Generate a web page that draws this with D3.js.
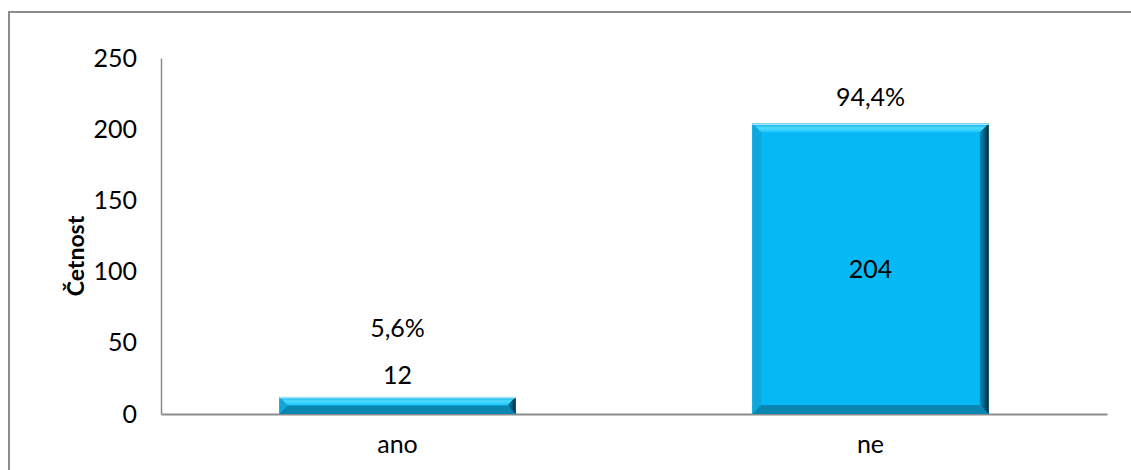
<!DOCTYPE html>
<html>
<head>
<meta charset="utf-8">
<script src="https://cdn.jsdelivr.net/npm/d3@7"></script>
<style>
  body { margin: 0; background: #fff; }
  text { font-family: Lato, "Open Sans", sans-serif; fill: #000; }
</style>
</head>
<body>
<svg id="chart" width="1131" height="470"></svg>
<script>
// data
var categories = ["ano", "ne"];
var counts = [12, 204];
var percents = ["5,6%", "94,4%"];
var yTicks = [0, 50, 100, 150, 200, 250];

var svg = d3.select("#chart");
var plotLeft = 161, plotRight = 1107, plotTop = 58, plotBottom = 414;

// outer frame (runs off right/bottom edges)
svg.append("rect")
  .attr("x", 9).attr("y", 12)
  .attr("width", 1140).attr("height", 480)
  .attr("fill", "none").attr("stroke", "#8c8c8c").attr("stroke-width", 2);

var x = d3.scaleBand().domain(categories).range([plotLeft, plotRight])
  .paddingInner(0.5).paddingOuter(0.25);
var y = d3.scaleLinear().domain([0, 250]).range([plotBottom, plotTop]);

// y axis
var yAxis = svg.append("g").attr("transform", "translate(" + plotLeft + ",0)")
  .call(d3.axisLeft(y).tickValues(yTicks).tickSize(0).tickPadding(24));
yAxis.select(".domain").attr("stroke", "#8c8c8c").attr("stroke-width", 1.5);
yAxis.selectAll("text").style("font-size", "25px").attr("font-family", null);

// x axis
var xAxis = svg.append("g").attr("transform", "translate(0," + plotBottom + ")")
  .call(d3.axisBottom(x).tickSize(0).tickPadding(21));
xAxis.select(".domain").attr("stroke", "#8c8c8c").attr("stroke-width", 2);
xAxis.selectAll("text").style("font-size", "25px").attr("font-family", null);

// y title
svg.append("text")
  .attr("transform", "translate(84,256) rotate(-90)")
  .attr("text-anchor", "middle")
  .style("font-size", "23px").style("font-weight", "bold")
  .text("Četnost");

// gradients for bevel edges
var defs = svg.append("defs");
var gr = defs.append("linearGradient").attr("id", "rgrad")
  .attr("x1", 0).attr("x2", 1).attr("y1", 0).attr("y2", 0);
gr.append("stop").attr("offset", "0%").attr("stop-color", "#0590bf");
gr.append("stop").attr("offset", "100%").attr("stop-color", "#0a2a3a");
var tg = defs.append("linearGradient").attr("id", "tgrad")
  .attr("x1", 0).attr("x2", 0).attr("y1", 0).attr("y2", 1);
tg.append("stop").attr("offset", "0%").attr("stop-color", "#0aa7dd");
tg.append("stop").attr("offset", "50%").attr("stop-color", "#4fdcff");
tg.append("stop").attr("offset", "100%").attr("stop-color", "#18c2f8");

var bars = svg.append("g").selectAll("g").data(categories).enter().append("g");
bars.each(function(c, i) {
  var g = d3.select(this);
  var x0 = x(c), x1 = x(c) + x.bandwidth();
  var y0 = y(counts[i]), y1 = y(0);
  var b = Math.min(9, (y1 - y0) / 2);
  g.append("rect").attr("x", x0).attr("y", y0)
    .attr("width", x1 - x0).attr("height", y1 - y0).attr("fill", "#05b9f5");
  var poly = function(pts, fill) {
    g.append("polygon").attr("points", pts.map(function(p) { return p.join(","); }).join(" "))
      .attr("fill", fill);
  };
  poly([[x0, y0], [x1, y0], [x1 - b, y0 + b], [x0 + b, y0 + b]], "url(#tgrad)");
  poly([[x0, y0], [x0 + b, y0 + b], [x0 + b, y1 - b], [x0, y1]], "#0fa6dc");
  poly([[x0, y1], [x0 + b, y1 - b], [x1 - b, y1 - b], [x1, y1]], "#0a86b2");
  poly([[x1, y0], [x1, y1], [x1 - b, y1 - b], [x1 - b, y0 + b]], "url(#rgrad)");
  g.append("rect").attr("x", x0).attr("y", y0).attr("width", x1 - x0).attr("height", 1.5)
    .attr("fill", "#a8e6f8");

  var cx = x0 + x.bandwidth() / 2;
  var tall = (y1 - y0) > 60;
  var countY = tall ? (y0 + y1) / 2 : y0 - 22;
  var pctY = tall ? y0 - 26 : countY - 47;
  g.append("text").attr("x", cx).attr("y", countY).attr("dy", "0.35em")
    .attr("text-anchor", "middle").style("font-size", "25px").text(counts[i]);
  g.append("text").attr("x", cx).attr("y", pctY).attr("dy", "0.35em")
    .attr("text-anchor", "middle").style("font-size", "25px").text(percents[i]);
});
</script>
</body>
</html>
